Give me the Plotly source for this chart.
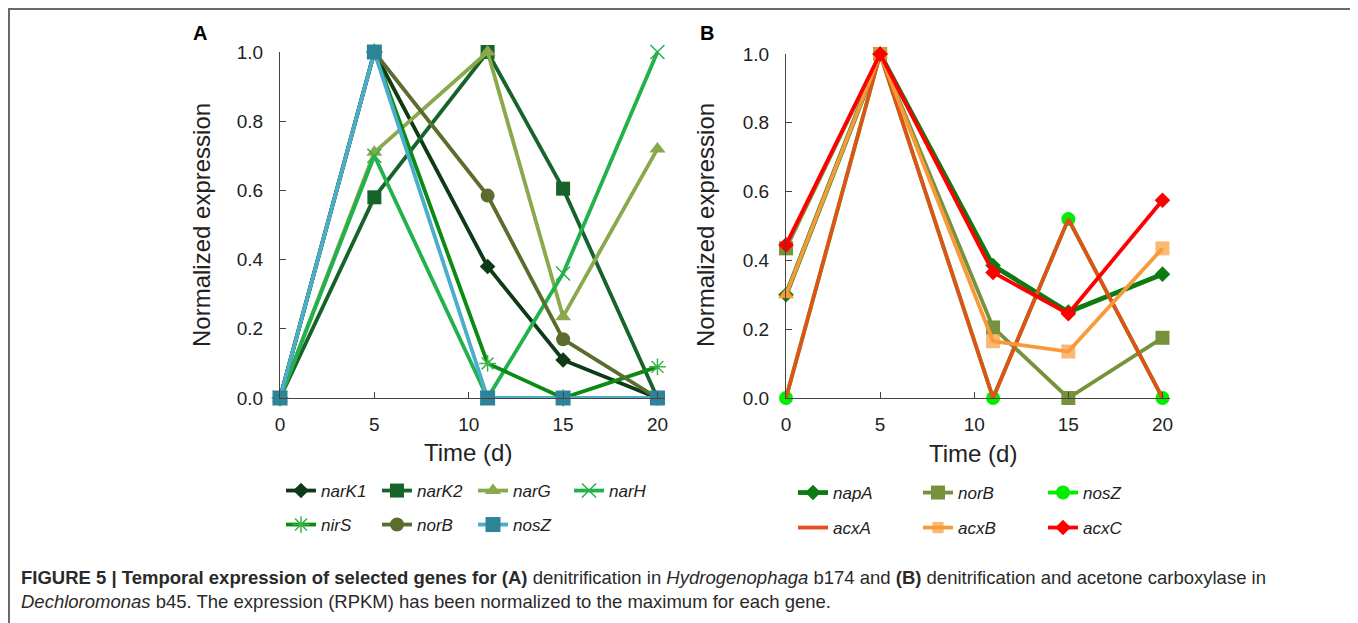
import plotly.graph_objects as go

W, H = 1358, 623
OFF = 8  # page body margin offset

# ---------------- data ----------------
days = [0, 5, 11, 15, 20]
x_ticks = [0, 5, 10, 15, 20]
y_ticks = [0.0, 0.2, 0.4, 0.6, 0.8, 1.0]
y_tick_labels = ["0.0", "0.2", "0.4", "0.6", "0.8", "1.0"]

# Panel A: Hydrogenophaga b174
narK1 = [0.0, 1.0, 0.38, 0.11, 0.0]
narK2 = [0.0, 0.58, 1.0, 0.605, 0.0]
narG = [0.0, 0.71, 1.0, 0.235, 0.72]
narH = [0.0, 0.70, 0.0, 0.36, 1.0]
nirS = [0.0, 1.0, 0.10, 0.0, 0.09]
norB_A = [0.0, 1.0, 0.585, 0.17, 0.0]
nosZ_A = [0.0, 1.0, 0.0, 0.0, 0.0]

# Panel B: Dechloromonas b45
napA = [0.30, 1.0, 0.385, 0.25, 0.36]
norB_B = [0.435, 1.0, 0.205, 0.0, 0.175]
nosZ_B = [0.0, 1.0, 0.0, 0.52, 0.0]
acxA = [0.0, 1.0, 0.0, 0.52, 0.0]
acxB = [0.30, 1.0, 0.165, 0.135, 0.435]
acxC = [0.445, 1.0, 0.365, 0.245, 0.575]

FONT = "Liberation Sans, Arial, sans-serif"


def px_x(p):
    return (p - OFF) / W


def px_y(p):
    return 1 - (p - OFF) / H


fig = go.Figure()


def add(name, y, color, symbol, size, xa, ya, legend, lw=3.8, mcolor=None,
        open_sym=False, mode="lines+markers"):
    mc = mcolor or color
    marker = dict(symbol=symbol, size=size, color=mc)
    if open_sym:
        marker["line"] = dict(color=mc, width=1.5)
    else:
        marker["line"] = dict(width=0)
    fig.add_trace(go.Scatter(
        x=days, y=y, name="<i>%s</i>" % name, mode=mode,
        line=dict(color=color, width=lw), marker=marker,
        xaxis=xa, yaxis=ya, legend=legend, cliponaxis=False))


# Panel A traces
add("narK1", narK1, "#0d3a17", "diamond", 12, "x", "y", "legend")
add("narK2", narK2, "#17642b", "square", 14, "x", "y", "legend")
add("narG", narG, "#8aa84c", "triangle-up", 14, "x", "y", "legend")
add("narH", narH, "#23b14d", "x-thin-open", 14, "x", "y", "legend", open_sym=True)
add("nirS", nirS, "#0b8a14", "asterisk-open", 14, "x", "y", "legend2", open_sym=True,
    mcolor="#3cb44a")
add("norB", norB_A, "#5a6d2d", "circle", 14, "x", "y", "legend2")
add("nosZ", nosZ_A, "#4badcc", "square", 15, "x", "y", "legend2", mcolor="#2e8399")

# Panel B traces
add("napA", napA, "#0e7a12", "diamond", 12, "x2", "y2", "legend3", lw=4.8)
add("norB", norB_B, "#76923c", "square", 14, "x2", "y2", "legend3")
add("nosZ", nosZ_B, "#00ee00", "circle", 14, "x2", "y2", "legend3")
add("acxA", acxA, "#e2501c", "circle", 0, "x2", "y2", "legend4", mode="lines")
add("acxB", acxB, "#f89a3a", "square", [0, 14, 14, 14, 14], "x2", "y2", "legend4")
fig.add_trace(go.Scatter(
    x=days[:1], y=acxB[:1], mode="markers", showlegend=False,
    marker=dict(symbol="triangle-up", size=14, color="#f89a3a", line=dict(width=0)),
    xaxis="x2", yaxis="y2", cliponaxis=False))
add("acxC", acxC, "#ff0000", "diamond", 12, "x2", "y2", "legend4")

axis_common = dict(
    showgrid=False, zeroline=False, showline=True, linecolor="#444", linewidth=1,
    ticks="inside", ticklen=6, tickcolor="#444", tickwidth=1, automargin=False,
    tickfont=dict(family=FONT, size=19, color="#222"),
)

fig.update_layout(
    width=W, height=H,
    margin=dict(l=0, r=0, t=0, b=0, pad=0, autoexpand=False),
    paper_bgcolor="white", plot_bgcolor="white",
    font=dict(family=FONT, color="#222"),
    xaxis=dict(domain=[px_x(280), px_x(665)], range=[0, 20.4], tickvals=x_ticks,
               anchor="y", ticklabelstandoff=9, **axis_common),
    yaxis=dict(domain=[px_y(398), px_y(52)], range=[0, 1], tickvals=y_ticks,
               ticktext=y_tick_labels, anchor="x", ticklabelstandoff=12, **axis_common),
    xaxis2=dict(domain=[px_x(786), px_x(1170)], range=[0, 20.4], tickvals=x_ticks,
                anchor="y2", ticklabelstandoff=9, **axis_common),
    yaxis2=dict(domain=[px_y(398), px_y(54)], range=[0, 1], tickvals=y_ticks,
                ticktext=y_tick_labels, anchor="x2", ticklabelstandoff=12, **axis_common),
)

leg_common = dict(orientation="h", xanchor="left", yanchor="middle",
                  font=dict(family=FONT, size=17, color="#222"),
                  bgcolor="rgba(0,0,0,0)", borderwidth=0, tracegroupgap=0,
                  entrywidthmode="pixels", itemclick=False, itemdoubleclick=False)
fig.update_layout(
    legend=dict(x=px_x(281), y=px_y(491), entrywidth=51, **leg_common),
    legend2=dict(x=px_x(281), y=px_y(525), entrywidth=51, **leg_common),
    legend3=dict(x=px_x(793), y=px_y(493), entrywidth=80, **leg_common),
    legend4=dict(x=px_x(793), y=px_y(528), entrywidth=80, **leg_common),
)

ann = []
ann.append(dict(text="<b>A</b>", x=px_x(200), y=px_y(33), font=dict(size=20, color="#000")))
ann.append(dict(text="<b>B</b>", x=px_x(707), y=px_y(33), font=dict(size=20, color="#000")))
ann.append(dict(text="Time (d)", x=px_x(468), y=px_y(452), font=dict(size=24, color="#222")))
ann.append(dict(text="Time (d)", x=px_x(973), y=px_y(453), font=dict(size=24, color="#222")))
ann.append(dict(text="Normalized expression", x=px_x(202), y=px_y(225), textangle=-90,
                font=dict(size=24, color="#222")))
ann.append(dict(text="Normalized expression", x=px_x(706), y=px_y(225), textangle=-90,
                font=dict(size=24, color="#222")))
cap1 = ("<b>FIGURE 5 | Temporal expression of selected genes for (A)</b> denitrification in "
        "<i>Hydrogenophaga</i> b174 and <b>(B)</b> denitrification and acetone carboxylase in")
cap2 = ("<i>Dechloromonas</i> b45. The expression (RPKM) has been normalized to the maximum "
        "for each gene.")
ann.append(dict(text=cap1, x=px_x(19), y=px_y(577), xanchor="left",
                font=dict(size=18.5, color="#2a2a2a")))
ann.append(dict(text=cap2, x=px_x(19), y=px_y(601), xanchor="left",
                font=dict(size=18.5, color="#2a2a2a")))
for a in ann:
    a.setdefault("xanchor", "center")
    a.update(xref="paper", yref="paper", yanchor="middle", showarrow=False)
    a["font"].setdefault("family", FONT)
fig.update_layout(annotations=ann)

fig.add_shape(type="rect", xref="paper", yref="paper",
              x0=px_x(9), x1=px_x(1355), y0=px_y(660), y1=px_y(9),
              line=dict(color="#6a6a6a", width=2), fillcolor="rgba(0,0,0,0)",
              layer="below")

fig.write_html("out.html")
